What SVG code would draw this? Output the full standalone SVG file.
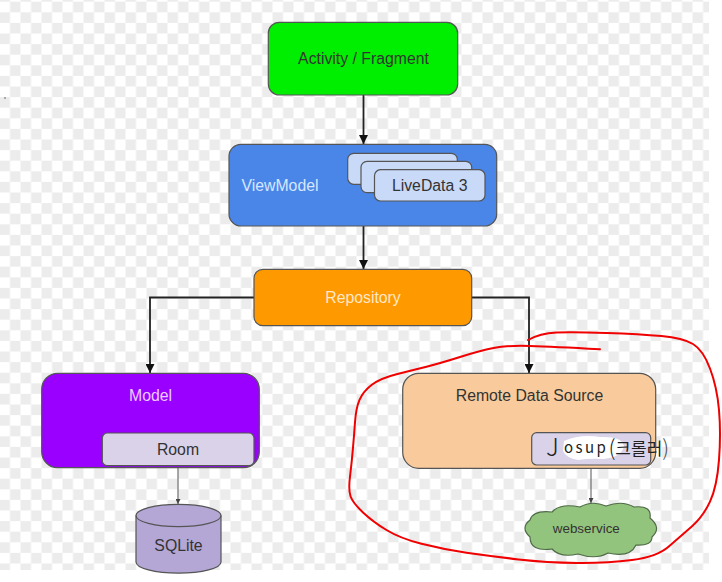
<svg xmlns="http://www.w3.org/2000/svg" width="722" height="582" viewBox="0 0 722 582">
  <style>
    text { font-family: "Liberation Sans", Arial, sans-serif; font-size: 15.8px; fill: #333; text-anchor: middle; }
    .box { stroke: #555; stroke-width: 1.2; }
    .line { fill: none; stroke: #222; stroke-width: 1.8; }
    .thin { fill: none; stroke: #555; stroke-width: 1; }
  </style>
  <defs>
    <pattern id="checker" patternUnits="userSpaceOnUse" x="-0.5" y="1.7" width="21" height="21.2">
      <rect x="10.5" y="0" width="10.5" height="10.6" fill="#ececec"/>
      <rect x="0" y="10.6" width="10.5" height="10.6" fill="#ececec"/>
    </pattern>
    <marker id="big" markerUnits="userSpaceOnUse" markerWidth="9" markerHeight="9" refX="9" refY="4.5" orient="auto">
      <polygon points="0,0 9,4.5 0,9" fill="#111"/>
    </marker>
    <marker id="small" markerUnits="userSpaceOnUse" markerWidth="5" markerHeight="5" refX="5" refY="2.5" orient="auto">
      <polygon points="0,0 5,2.5 0,5" fill="#444"/>
    </marker>
  </defs>
  <rect width="722" height="582" fill="#fff"/>
  <rect width="709" height="570" fill="url(#checker)"/>
  <rect x="4" y="97" width="2" height="2" fill="#aaa"/>

  <g id="connectors">
    <path class="line" marker-end="url(#big)" d="M363.5 95V144"/>
    <path class="line" marker-end="url(#big)" d="M363.5 226V269"/>
    <path class="line" marker-end="url(#big)" d="M254 297.5H150V373"/>
    <path class="line" marker-end="url(#big)" d="M471.7 297.5H529V373"/>
    <path class="thin" marker-end="url(#small)" d="M178 466V504"/>
    <path class="thin" marker-end="url(#small)" d="M591 465V503"/>
  </g>

  <g id="activity">
    <rect class="box" x="268.3" y="22.3" width="189.4" height="72.7" rx="11" fill="#00ee00"/>
    <text x="363.5" y="64">Activity / Fragment</text>
  </g>
  <g id="viewmodel">
    <rect class="box" x="229" y="144.3" width="267.7" height="81.7" rx="12" fill="#4a86e8"/>
    <text x="280" y="191" style="fill:#d6e6ff">ViewModel</text>
  </g>
  <g id="livedata1">
    <rect class="box" x="347.7" y="153.3" width="109.6" height="31" rx="6" fill="#c9daf8"/>
  </g>
  <g id="livedata2">
    <rect class="box" x="361" y="161.3" width="110.7" height="31.4" rx="6" fill="#c9daf8"/>
  </g>
  <g id="livedata3">
    <rect class="box" x="374.5" y="169.7" width="110.5" height="31.3" rx="6" fill="#c9daf8"/>
    <text x="429.7" y="191">LiveData 3</text>
  </g>
  <g id="repository">
    <rect class="box" x="254" y="269.3" width="217.7" height="56.4" rx="9" fill="#ff9900"/>
    <text x="363" y="303" style="fill:#ffe8c8">Repository</text>
  </g>
  <g id="model">
    <rect class="box" x="41.7" y="373.3" width="217.6" height="94.4" rx="16" fill="#9900ff"/>
    <text x="150.5" y="401" style="fill:#eecbff">Model</text>
  </g>
  <g id="room">
    <rect class="box" x="102.3" y="433" width="151.7" height="32.7" rx="5" fill="#d9d2e9"/>
    <text x="178" y="455">Room</text>
  </g>
  <g id="sqlite">
    <path class="box" fill="#b4a7d6" d="M136 515.5A42.5 11.2 0 0 1 221 515.5V562A42.5 11.2 0 0 1 136 562Z"/>
    <path class="box" fill="none" d="M136 515.5A42.5 11.2 0 0 0 221 515.5"/>
    <text x="178.5" y="550.7">SQLite</text>
  </g>
  <g id="remote">
    <rect class="box" x="402.7" y="373.3" width="253" height="95" rx="16" fill="#f9cb9c"/>
    <text x="529.5" y="401">Remote Data Source</text>
  </g>
  <g id="josup">
    <rect class="box" x="531.7" y="432.7" width="119" height="32.3" rx="5" fill="#d9d2e9"/>
    <path fill="#fff" d="M564 441Q580 434 600 437Q622 436 624 446Q622 457 604 459Q590 458 578 460Q566 458 563 451Z"/>
    <text x="546" y="456" style="font-family:'Noto Sans CJK KR','Liberation Sans',sans-serif;font-size:15px;text-anchor:start;fill:#222"><tspan style="font-size:25px;font-weight:300">J</tspan><tspan dy="-3" dx="5" letter-spacing="2.5">osup</tspan><tspan dy="3" style="font-size:22px;font-weight:300">(</tspan><tspan dy="-1" style="font-size:17px">크롤러</tspan><tspan dy="1" style="font-size:22px;font-weight:300;fill:#555">)</tspan></text>
  </g>
  <g id="webservice">
    <path stroke="#4f6b47" stroke-width="1.2" fill="#93c47d" d="M530 537Q520 528 530 520Q533 510 552 512Q560 503 580 507Q592 500 606 506Q622 500 634 507Q652 505 650 518Q662 528 652 537Q652 546 636 545Q630 558 608 553Q596 560 578 554Q560 558 552 549Q530 552 530 537Z"/>
    <text x="586.3" y="533" style="font-size:13.4px">webservice</text>
  </g>

  <path id="red-circle" fill="none" stroke="#f00000" stroke-width="2" stroke-linecap="round" d="M600 349.3Q553 346.7 530 346Q507 345.3 493.5 348Q480 350.7 460 357Q440 363.3 426.5 366.7Q413 370 396.5 374.2Q380 378.3 371.5 385Q363 391.7 359.5 399.9Q356 408 355 422.3Q354 436.7 352.8 449.9Q351.7 463 350 476.5Q348.3 490 350.6 496.5Q353 503 363 512.4Q373 521.7 386.5 530Q400 538.3 421.5 543.8Q443 549.3 466.5 552.7Q490 556 518.5 559.4Q547 562.7 577 563Q607 563.3 632 560Q657 556.7 668.5 546.7Q680 536.7 691.5 526.7Q703 516.7 710 501.7Q717 486.7 719 459.9Q721 433 719 410Q717 387 710 368.5Q703 350 693 344Q683 338 661.5 336Q640 334 606.5 332.9Q573 331.7 556.5 332.4Q540 333 528 340"/>
</svg>
